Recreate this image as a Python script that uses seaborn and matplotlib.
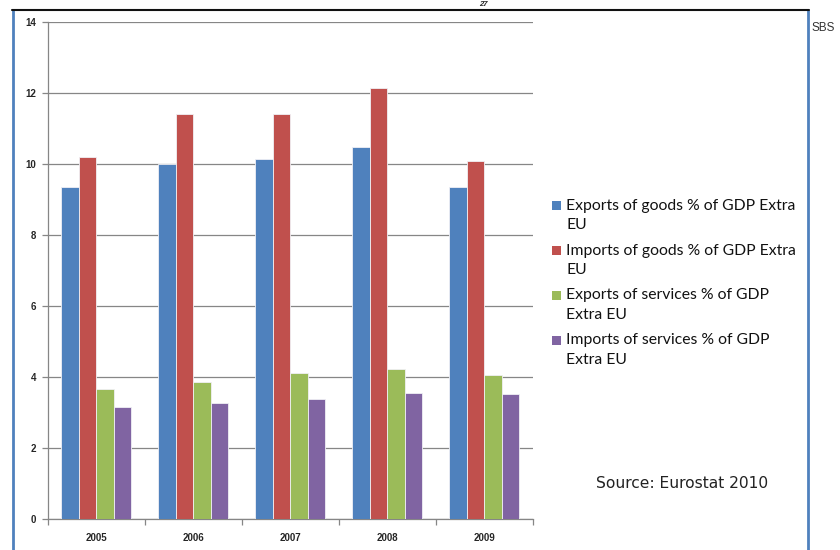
import matplotlib
matplotlib.use("Agg")
import matplotlib.pyplot as plt
import seaborn as sns
import pandas as pd
import numpy as np
from matplotlib.lines import Line2D
from matplotlib.patches import Rectangle

years = ["2005", "2006", "2007", "2008", "2009"]
series = [
    "Exports of goods % of GDP Extra EU",
    "Imports of goods % of GDP Extra EU",
    "Exports of services % of GDP Extra EU",
    "Imports of services % of GDP Extra EU",
]
exports_goods = [9.34, 10.01, 10.14, 10.49, 9.34]
imports_goods = [10.21, 11.42, 11.42, 12.15, 10.08]
exports_services = [3.65, 3.87, 4.10, 4.23, 4.07]
imports_services = [3.15, 3.27, 3.39, 3.56, 3.52]
legend_labels = [
    ["Exports of goods % of GDP Extra", "EU"],
    ["Imports of goods % of GDP Extra", "EU"],
    ["Exports of services % of GDP", "Extra EU"],
    ["Imports of services % of GDP", "Extra EU"],
]
colors = ["#4F81BD", "#C0504D", "#9BBB59", "#8064A2"]
yticks = [0, 2, 4, 6, 8, 10, 12, 14]

rows = []
for s, vals in zip(series, [exports_goods, imports_goods, exports_services, imports_services]):
    for y, v in zip(years, vals):
        rows.append({"Year": y, "Series": s, "Value": v})
df = pd.DataFrame(rows)

sns.set_style("white")
W, H = 840, 550
fig = plt.figure(figsize=(8.4, 5.5), dpi=100)
ax = fig.add_axes([47.5 / W, 1 - 519 / H, (533 - 47.5) / W, (519 - 22) / H])

sns.barplot(data=df, x="Year", y="Value", hue="Series", hue_order=series,
            palette=colors, saturation=1, width=0.72, gap=0,
            edgecolor="#f0f0f5", linewidth=0.6, ax=ax, legend=False, zorder=3)

ax.set_ylim(0, 14)
ax.set_xlim(-0.5, 4.5)
ax.set_yticks(yticks)
ax.set_yticklabels([str(t) for t in yticks], fontsize=7, fontweight="bold",
                   family="Liberation Sans")
ax.set_xticklabels(years, fontsize=7, fontweight="bold", family="Liberation Sans")
ax.set_xlabel("")
ax.set_ylabel("")
ax.yaxis.grid(True, color="#868686", linewidth=0.9, zorder=0)
ax.set_axisbelow(True)
for side in ["top", "right"]:
    ax.spines[side].set_visible(False)
for side in ["left", "bottom"]:
    ax.spines[side].set_color("#868686")
    ax.spines[side].set_linewidth(0.9)
ax.tick_params(axis="y", length=4, width=0.9, color="#868686", pad=4, left=True)
ax.tick_params(axis="x", which="major", length=0, pad=10)
ax.set_xticks(np.arange(-0.5, 5.0, 1.0), minor=True)
ax.tick_params(axis="x", which="minor", length=4, width=0.9, color="#868686", bottom=True)

# legend (drawn manually to match line/item spacing)
first_line_y = 205.7
item_step = 44.8
line_step = 19.5
for i, (c, lines) in enumerate(zip(colors, legend_labels)):
    y0 = first_line_y + i * item_step
    fig.add_artist(Rectangle((551.5 / W, 1 - (y0 + 4.5) / H), 9 / W, 9 / H,
                             transform=fig.transFigure, facecolor=c, edgecolor="none"))
    for j, t in enumerate(lines):
        fig.text(566 / W, 1 - (y0 + j * line_step) / H, t, fontsize=11.3,
                 family="Lato", color="#111111", va="center", ha="left")

# source note
fig.text(596 / W, 1 - 483 / H, "Source: Eurostat 2010", fontsize=11.2,
         family="DejaVu Sans", color="#222222", va="center", ha="left")

# outer frame
fig.add_artist(Line2D([13 / W, 13 / W], [0, 1 - 10 / H], transform=fig.transFigure,
                      color="#4F81BD", linewidth=2))
fig.add_artist(Line2D([808 / W, 808 / W], [0, 1 - 10 / H], transform=fig.transFigure,
                      color="#4F81BD", linewidth=2))
fig.add_artist(Line2D([12 / W, 809 / W], [1 - 10 / H, 1 - 10 / H], transform=fig.transFigure,
                      color="#111111", linewidth=1.5))
fig.text(812 / W, 1 - 28 / H, "SBS", fontsize=8.5,
         family=["Liberation Sans Narrow", "Liberation Sans"],
         color="#333333", va="center", ha="left")
fig.text(483 / W, 1 - 0.5 / H, "27", fontsize=5.5, fontweight="bold", style="italic",
         family="Liberation Sans", ha="center", va="top")

fig.savefig("out.png", dpi=100)
